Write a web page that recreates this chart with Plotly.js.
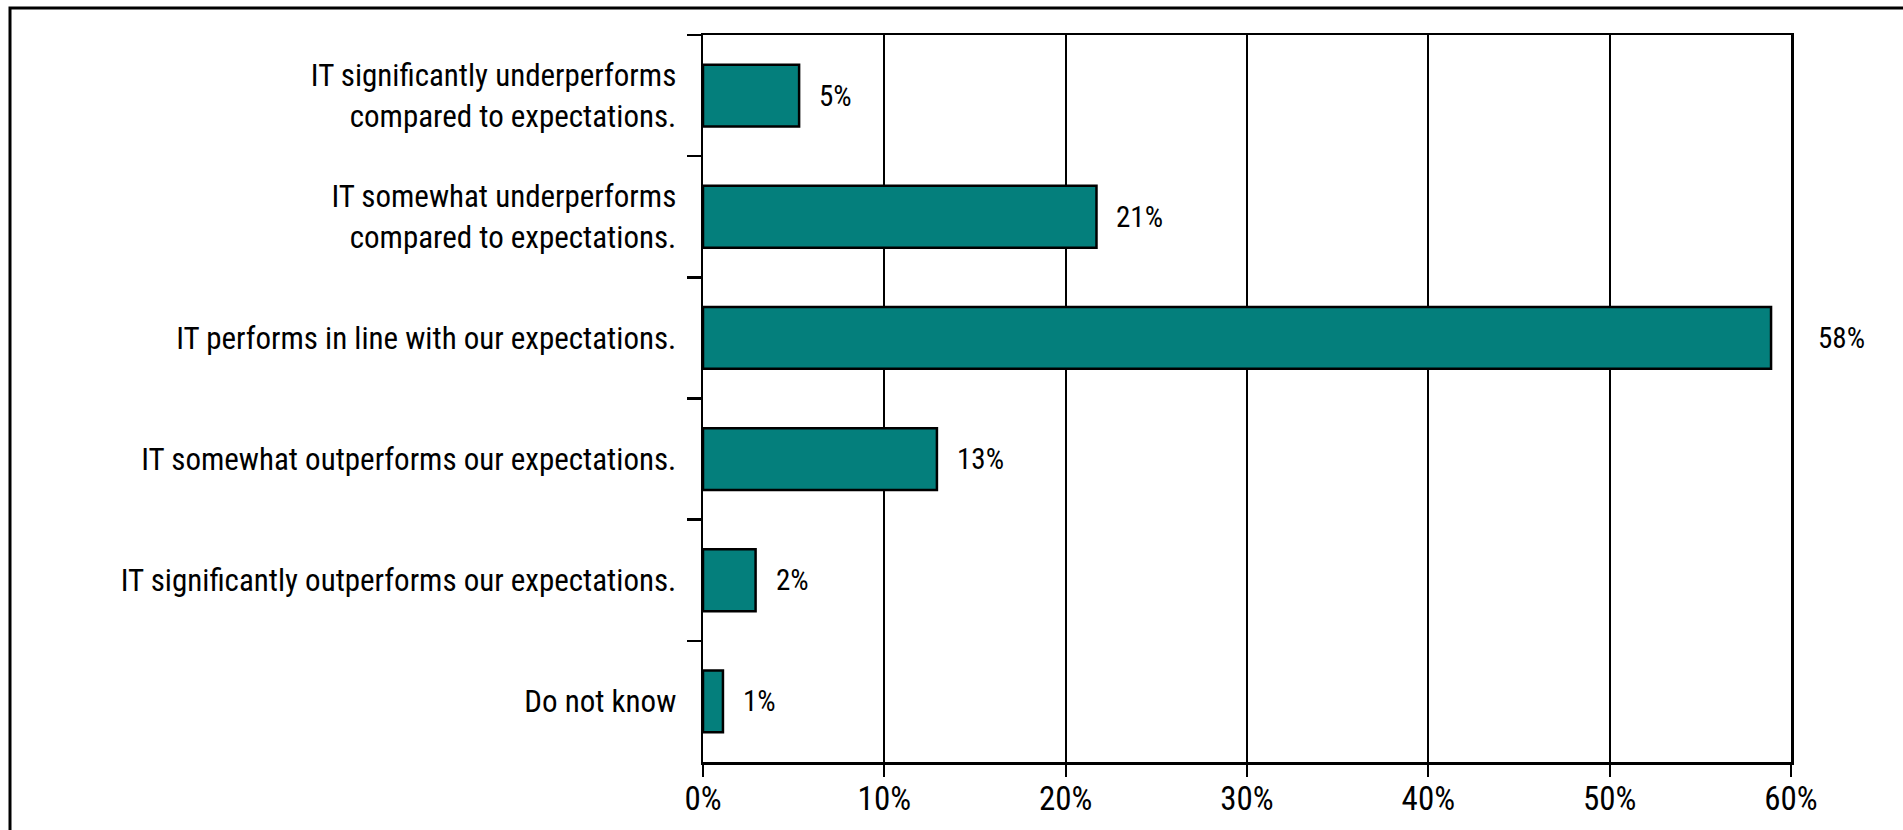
<!DOCTYPE html>
<html>
<head>
<meta charset="utf-8">
<script src="https://cdn.plot.ly/plotly-3.0.1.min.js"></script>
<style>
  html, body { margin: 0; padding: 0; background: #fff; overflow: hidden; }
  #chart { width: 1903px; height: 830px; }
</style>
</head>
<body>
<div id="chart"></div>
<script>
// ---- data ----
const categories = [
  "IT significantly underperforms<br>compared to expectations.",
  "IT somewhat underperforms<br>compared to expectations.",
  "IT performs in line with our expectations.",
  "IT somewhat outperforms our expectations.",
  "IT significantly outperforms our expectations.",
  "Do not know"
];
const values = [5.3, 21.7, 58.9, 12.9, 2.9, 1.1];
const valueLabels = ["5%", "21%", "58%", "13%", "2%", "1%"];
const xTickVals = [0, 10, 20, 30, 40, 50, 60];
const xTickText = ["0%", "10%", "20%", "30%", "40%", "50%", "60%"];

// ---- styling ----
const FONT = '"Roboto Condensed", "Open Sans Condensed", Roboto, sans-serif';
const W = 1903, H = 830;
const margin = { l: 703, r: 112, t: 35, b: 68 };
const xMax = 60;

const trace = {
  type: 'bar',
  orientation: 'h',
  x: values,
  y: categories,
  marker: { color: '#047f7c', line: { color: '#000000', width: 2.5 } },
  hoverinfo: 'none',
  showlegend: false
};

const annotations = values.map((v, i) => {
  const nearEdge = v > xMax - 3;
  return {
    x: nearEdge ? xMax : v,
    y: categories[i],
    xref: 'x', yref: 'y',
    text: valueLabels[i],
    showarrow: false,
    xanchor: 'left',
    yanchor: 'middle',
    xshift: nearEdge ? 25 : 18,
    font: { family: FONT, size: 29, color: '#000' }
  };
});

// outer frame (left and top edges visible)
const pw = W - margin.l - margin.r;
const ph = H - margin.t - margin.b;
const fx = (px) => (px - margin.l) / pw;
const fy = (py) => 1 - (py - margin.t) / ph;
const shapes = [{
  type: 'rect', xref: 'paper', yref: 'paper',
  x0: fx(10), x1: fx(W + 20), y0: fy(H + 20), y1: fy(8),
  line: { color: '#000', width: 3 }, fillcolor: 'rgba(0,0,0,0)', layer: 'above'
}];

const layout = {
  width: W, height: H,
  margin: margin,
  paper_bgcolor: '#fff', plot_bgcolor: '#fff',
  font: { family: FONT, color: '#000' },
  bargap: 0.49,
  xaxis: {
    range: [0, xMax],
    tickvals: xTickVals,
    ticktext: xTickText,
    tickfont: { family: FONT, size: 33, color: '#000' },
    ticks: 'outside', ticklen: 12, tickwidth: 2, tickcolor: '#000',
    ticklabelstandoff: -6,
    showgrid: true, gridcolor: '#000', gridwidth: 2,
    zeroline: false,
    showline: true, linecolor: '#000', linewidth: 2.5, mirror: true,
    fixedrange: true
  },
  yaxis: {
    type: 'category',
    autorange: 'reversed',
    tickson: 'boundaries',
    ticks: 'outside', ticklen: 14, tickwidth: 2.5, tickcolor: '#000',
    tickfont: { family: FONT, size: 31, color: '#000' },
    ticklabelstandoff: 18,
    showgrid: false,
    zeroline: false,
    showline: true, linecolor: '#000', linewidth: 2.5, mirror: true,
    fixedrange: true
  },
  annotations: annotations,
  shapes: shapes
};

Plotly.newPlot('chart', [trace], layout, { displayModeBar: false, staticPlot: true });
</script>
</body>
</html>
